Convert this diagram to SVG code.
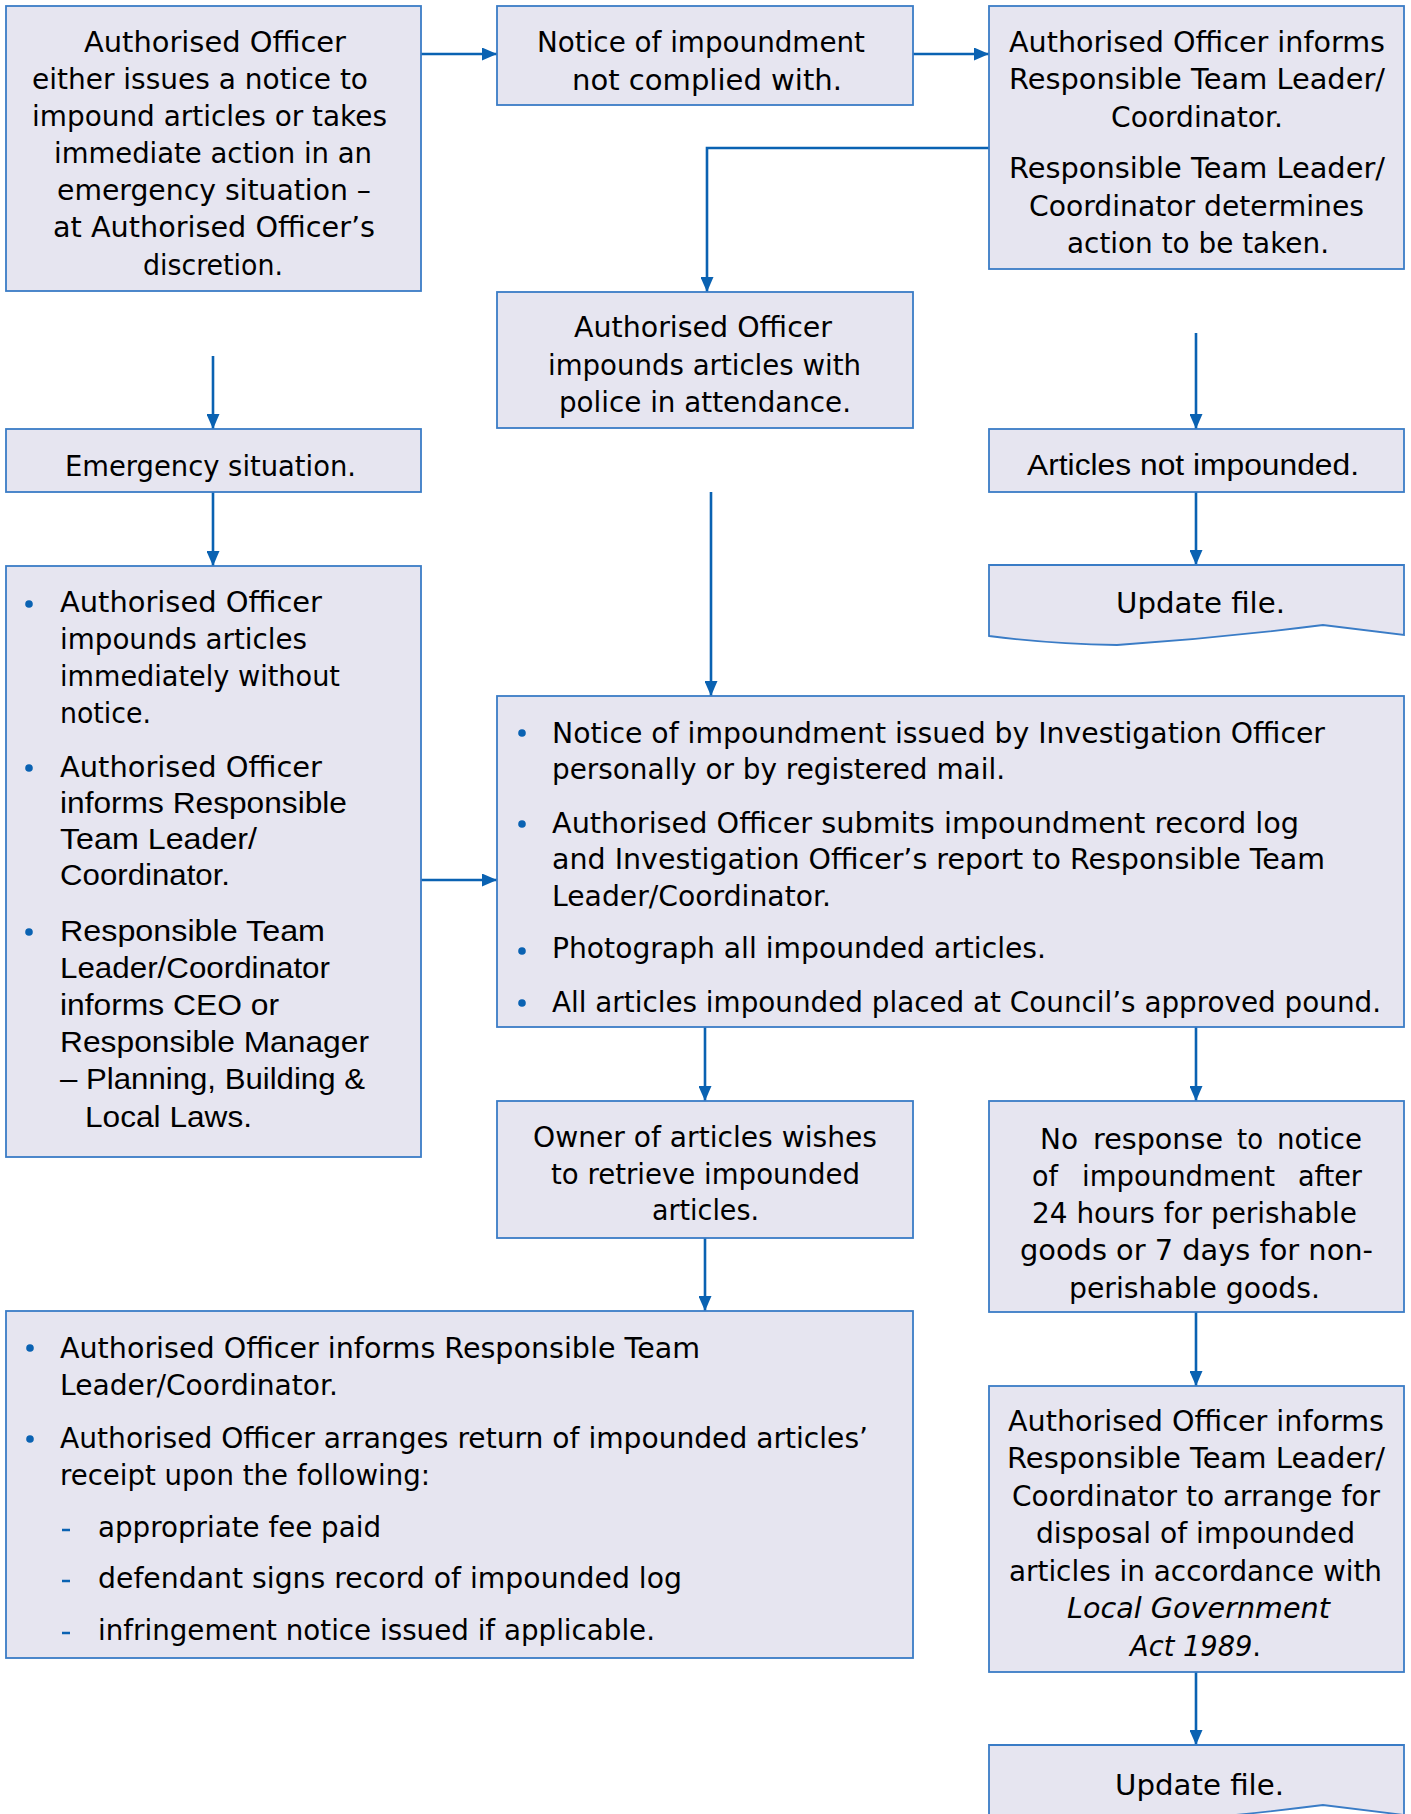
<svg xmlns="http://www.w3.org/2000/svg" width="1411" height="1814" viewBox="0 0 1411 1814">
<style>
.box{fill:#E6E5F0;stroke:#3A7CC6;stroke-width:1.8}
.t{font-family:"DejaVu Sans",sans-serif;font-size:29px;fill:#000}
.a{font-family:"Liberation Sans",Arial,sans-serif;font-size:30px;fill:#000}
.i{font-style:italic}
.c{fill:none;stroke:#0A62B2;stroke-width:2.6}
.b{fill:#0A62B2}
.d{stroke:#0A62B2;stroke-width:2.5}
</style>
<defs>
<marker id="ah" markerUnits="userSpaceOnUse" markerWidth="15" markerHeight="13" refX="15" refY="6.5" orient="auto" viewBox="0 0 15 13">
<path d="M0,0 L15,6.5 L0,13 z" fill="#0A62B2"/>
</marker>
</defs>
<rect width="1411" height="1814" fill="#fff"/>

<g id="connectors">
<path class="c" d="M421,54 H497" marker-end="url(#ah)"/>
<path class="c" d="M913,54 H989" marker-end="url(#ah)"/>
<path class="c" d="M989,148 H707 V292" marker-end="url(#ah)"/>
<path class="c" d="M213,356 V429" marker-end="url(#ah)"/>
<path class="c" d="M213,492 V566" marker-end="url(#ah)"/>
<path class="c" d="M711,492 V696" marker-end="url(#ah)"/>
<path class="c" d="M1196,333 V429" marker-end="url(#ah)"/>
<path class="c" d="M1196,492 V565" marker-end="url(#ah)"/>
<path class="c" d="M421,880 H497" marker-end="url(#ah)"/>
<path class="c" d="M705,1027 V1101" marker-end="url(#ah)"/>
<path class="c" d="M1196,1027 V1101" marker-end="url(#ah)"/>
<path class="c" d="M705,1238 V1311" marker-end="url(#ah)"/>
<path class="c" d="M1196,1312 V1386" marker-end="url(#ah)"/>
<path class="c" d="M1196,1672 V1745" marker-end="url(#ah)"/>
</g>

<g id="n1">
<rect class="box" x="6" y="6" width="415" height="285"/>
<text class="t" x="84" y="52" textLength="262" lengthAdjust="spacingAndGlyphs">Authorised Officer</text>
<text class="t" x="32" y="89" textLength="336" lengthAdjust="spacingAndGlyphs">either issues a notice to</text>
<text class="t" x="32" y="126" textLength="355" lengthAdjust="spacingAndGlyphs">impound articles or takes</text>
<text class="t" x="54" y="163" textLength="318" lengthAdjust="spacingAndGlyphs">immediate action in an</text>
<text class="t" x="57" y="200" textLength="314" lengthAdjust="spacingAndGlyphs">emergency situation –</text>
<text class="t" x="53" y="237" textLength="322" lengthAdjust="spacingAndGlyphs">at Authorised Officer’s</text>
<text class="t" x="143" y="275" textLength="140" lengthAdjust="spacingAndGlyphs">discretion.</text>
</g>

<g id="n2">
<rect class="box" x="497" y="6" width="416" height="99"/>
<text class="t" x="537" y="52" textLength="328" lengthAdjust="spacingAndGlyphs">Notice of impoundment</text>
<text class="t" x="572" y="90" textLength="270" lengthAdjust="spacingAndGlyphs">not complied with.</text>
</g>

<g id="n3">
<rect class="box" x="989" y="6" width="415" height="263"/>
<text class="t" x="1009" y="52" textLength="376" lengthAdjust="spacingAndGlyphs">Authorised Officer informs</text>
<text class="t" x="1009" y="89" textLength="376" lengthAdjust="spacingAndGlyphs">Responsible Team Leader/</text>
<text class="t" x="1111" y="127" textLength="172" lengthAdjust="spacingAndGlyphs">Coordinator.</text>
<text class="t" x="1009" y="178" textLength="376" lengthAdjust="spacingAndGlyphs">Responsible Team Leader/</text>
<text class="t" x="1029" y="216" textLength="335" lengthAdjust="spacingAndGlyphs">Coordinator determines</text>
<text class="t" x="1067" y="253" textLength="262" lengthAdjust="spacingAndGlyphs">action to be taken.</text>
</g>

<g id="n4">
<rect class="box" x="497" y="292" width="416" height="136"/>
<text class="t" x="574" y="337" textLength="258" lengthAdjust="spacingAndGlyphs">Authorised Officer</text>
<text class="t" x="548" y="375" textLength="313" lengthAdjust="spacingAndGlyphs">impounds articles with</text>
<text class="t" x="559" y="412" textLength="292" lengthAdjust="spacingAndGlyphs">police in attendance.</text>
</g>

<g id="n5">
<rect class="box" x="6" y="429" width="415" height="63"/>
<text class="t" x="65" y="476" textLength="291" lengthAdjust="spacingAndGlyphs">Emergency situation.</text>
</g>

<g id="n6">
<rect class="box" x="6" y="566" width="415" height="591"/>
<circle class="b" cx="29" cy="604" r="3.8"/>
<text class="t" x="60" y="612" textLength="262" lengthAdjust="spacingAndGlyphs">Authorised Officer</text>
<text class="t" x="60" y="649" textLength="247" lengthAdjust="spacingAndGlyphs">impounds articles</text>
<text class="t" x="60" y="686" textLength="280" lengthAdjust="spacingAndGlyphs">immediately without</text>
<text class="t" x="60" y="723" textLength="91" lengthAdjust="spacingAndGlyphs">notice.</text>
<circle class="b" cx="29" cy="768" r="3.8"/>
<text class="t" x="60" y="777" textLength="262" lengthAdjust="spacingAndGlyphs">Authorised Officer</text>
<text class="a" x="60" y="813" textLength="287" lengthAdjust="spacingAndGlyphs">informs Responsible</text>
<text class="a" x="60" y="849" textLength="197" lengthAdjust="spacingAndGlyphs">Team Leader/</text>
<text class="a" x="60" y="885" textLength="170" lengthAdjust="spacingAndGlyphs">Coordinator.</text>
<circle class="b" cx="29" cy="932" r="3.8"/>
<text class="a" x="60" y="941" textLength="265" lengthAdjust="spacingAndGlyphs">Responsible Team</text>
<text class="a" x="60" y="978" textLength="270" lengthAdjust="spacingAndGlyphs">Leader/Coordinator</text>
<text class="a" x="60" y="1015" textLength="219" lengthAdjust="spacingAndGlyphs">informs CEO or</text>
<text class="a" x="60" y="1052" textLength="309" lengthAdjust="spacingAndGlyphs">Responsible Manager</text>
<text class="a" x="60" y="1089" textLength="305" lengthAdjust="spacingAndGlyphs">– Planning, Building &amp;</text>
<text class="a" x="85" y="1127" textLength="167" lengthAdjust="spacingAndGlyphs">Local Laws.</text>
</g>

<g id="n7">
<rect class="box" x="497" y="696" width="907" height="331"/>
<circle class="b" cx="522" cy="733" r="3.8"/>
<text class="t" x="552" y="743" textLength="773" lengthAdjust="spacingAndGlyphs">Notice of impoundment issued by Investigation Officer</text>
<text class="t" x="552" y="779" textLength="453" lengthAdjust="spacingAndGlyphs">personally or by registered mail.</text>
<circle class="b" cx="522" cy="824" r="3.8"/>
<text class="t" x="552" y="833" textLength="747" lengthAdjust="spacingAndGlyphs">Authorised Officer submits impoundment record log</text>
<text class="t" x="552" y="869" textLength="773" lengthAdjust="spacingAndGlyphs">and Investigation Officer’s report to Responsible Team</text>
<text class="t" x="552" y="906" textLength="279" lengthAdjust="spacingAndGlyphs">Leader/Coordinator.</text>
<circle class="b" cx="522" cy="951" r="3.8"/>
<text class="t" x="552" y="958" textLength="494" lengthAdjust="spacingAndGlyphs">Photograph all impounded articles.</text>
<circle class="b" cx="522" cy="1003" r="3.8"/>
<text class="t" x="552" y="1012" textLength="829" lengthAdjust="spacingAndGlyphs">All articles impounded placed at Council’s approved pound.</text>
</g>

<g id="n8">
<rect class="box" x="989" y="429" width="415" height="63"/>
<text class="a" x="1027" y="475" textLength="332" lengthAdjust="spacingAndGlyphs">Articles not impounded.</text>
</g>

<g id="n9">
<path class="box" d="M989,565 H1404 V635 L1323,625 Q1220,638 1117,645 Q1050,644 989,636 Z"/>
<text class="t" x="1116" y="613" textLength="169" lengthAdjust="spacingAndGlyphs">Update file.</text>
</g>

<g id="n10">
<rect class="box" x="497" y="1101" width="416" height="137"/>
<text class="t" x="533" y="1147" textLength="344" lengthAdjust="spacingAndGlyphs">Owner of articles wishes</text>
<text class="t" x="551" y="1184" textLength="309" lengthAdjust="spacingAndGlyphs">to retrieve impounded</text>
<text class="t" x="652" y="1220" textLength="107" lengthAdjust="spacingAndGlyphs">articles.</text>
</g>

<g id="n11">
<rect class="box" x="989" y="1101" width="415" height="211"/>
<text class="t" x="1040" y="1149" textLength="38" lengthAdjust="spacingAndGlyphs">No</text>
<text class="t" x="1093" y="1149" textLength="130" lengthAdjust="spacingAndGlyphs">response</text>
<text class="t" x="1237" y="1149" textLength="26" lengthAdjust="spacingAndGlyphs">to</text>
<text class="t" x="1277" y="1149" textLength="85" lengthAdjust="spacingAndGlyphs">notice</text>
<text class="t" x="1032" y="1186" textLength="26" lengthAdjust="spacingAndGlyphs">of</text>
<text class="t" x="1082" y="1186" textLength="193" lengthAdjust="spacingAndGlyphs">impoundment</text>
<text class="t" x="1298" y="1186" textLength="64" lengthAdjust="spacingAndGlyphs">after</text>
<text class="t" x="1032" y="1223" textLength="325" lengthAdjust="spacingAndGlyphs">24 hours for perishable</text>
<text class="t" x="1020" y="1260" textLength="353" lengthAdjust="spacingAndGlyphs">goods or 7 days for non-</text>
<text class="t" x="1069" y="1298" textLength="251" lengthAdjust="spacingAndGlyphs">perishable goods.</text>
</g>

<g id="n12">
<rect class="box" x="6" y="1311" width="907" height="347"/>
<circle class="b" cx="30" cy="1348" r="3.8"/>
<text class="t" x="60" y="1358" textLength="640" lengthAdjust="spacingAndGlyphs">Authorised Officer informs Responsible Team</text>
<text class="t" x="60" y="1395" textLength="278" lengthAdjust="spacingAndGlyphs">Leader/Coordinator.</text>
<circle class="b" cx="30" cy="1439" r="3.8"/>
<text class="t" x="60" y="1448" textLength="808" lengthAdjust="spacingAndGlyphs">Authorised Officer arranges return of impounded articles’</text>
<text class="t" x="60" y="1485" textLength="370" lengthAdjust="spacingAndGlyphs">receipt upon the following:</text>
<line class="d" x1="62" y1="1530" x2="70" y2="1530"/>
<text class="t" x="98" y="1537" textLength="283" lengthAdjust="spacingAndGlyphs">appropriate fee paid</text>
<line class="d" x1="62" y1="1581" x2="70" y2="1581"/>
<text class="t" x="98" y="1588" textLength="584" lengthAdjust="spacingAndGlyphs">defendant signs record of impounded log</text>
<line class="d" x1="62" y1="1633" x2="70" y2="1633"/>
<text class="t" x="98" y="1640" textLength="557" lengthAdjust="spacingAndGlyphs">infringement notice issued if applicable.</text>
</g>

<g id="n13">
<rect class="box" x="989" y="1386" width="415" height="286"/>
<text class="t" x="1008" y="1431" textLength="376" lengthAdjust="spacingAndGlyphs">Authorised Officer informs</text>
<text class="t" x="1007" y="1468" textLength="378" lengthAdjust="spacingAndGlyphs">Responsible Team Leader/</text>
<text class="t" x="1012" y="1506" textLength="368" lengthAdjust="spacingAndGlyphs">Coordinator to arrange for</text>
<text class="t" x="1036" y="1543" textLength="319" lengthAdjust="spacingAndGlyphs">disposal of impounded</text>
<text class="t" x="1009" y="1581" textLength="373" lengthAdjust="spacingAndGlyphs">articles in accordance with</text>
<text class="t i" x="1067" y="1618" textLength="263" lengthAdjust="spacingAndGlyphs">Local Government</text>
<text class="t" x="1130" y="1656" textLength="131" lengthAdjust="spacingAndGlyphs"><tspan class="i">Act 1989</tspan>.</text>
</g>

<g id="n14">
<path class="box" d="M989,1745 H1404 V1815 L1323,1805 Q1220,1818 1117,1825 Q1050,1824 989,1816 Z"/>
<text class="t" x="1115" y="1795" textLength="169" lengthAdjust="spacingAndGlyphs">Update file.</text>
</g>
</svg>
